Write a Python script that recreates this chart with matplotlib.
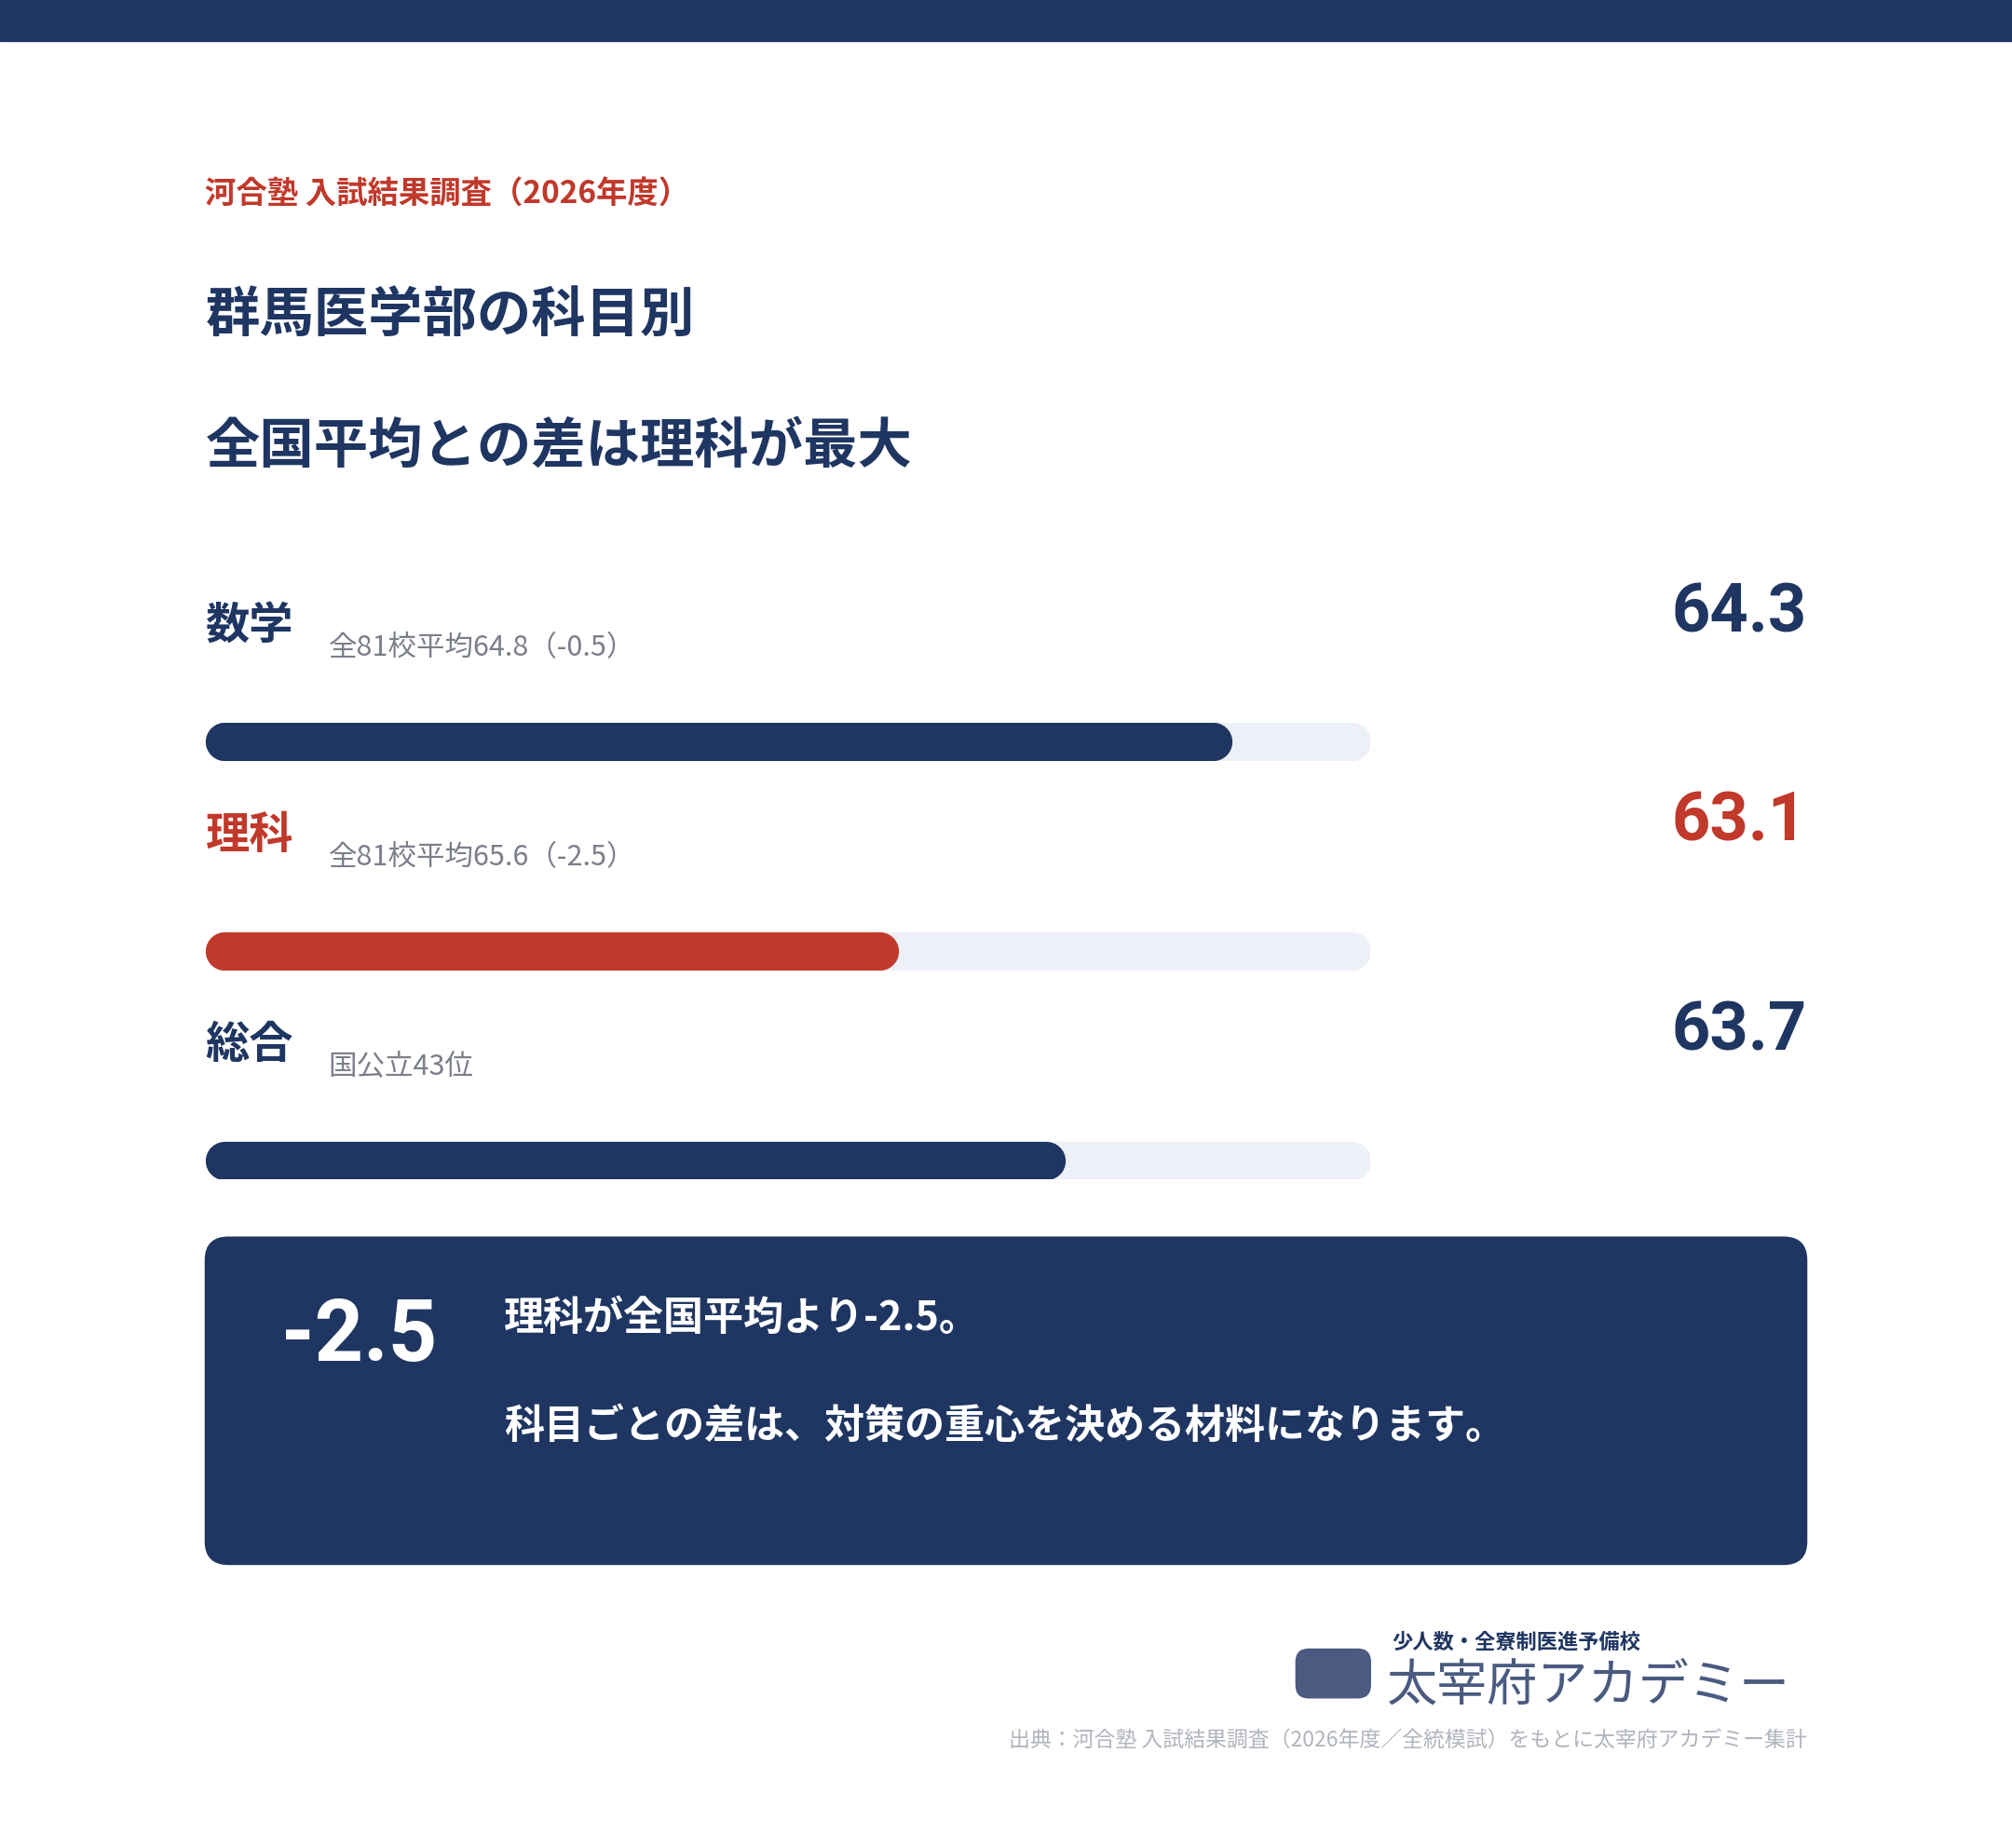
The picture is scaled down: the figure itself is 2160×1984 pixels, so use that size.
import matplotlib
matplotlib.use("Agg")
import matplotlib.pyplot as plt
from matplotlib.patches import FancyBboxPatch, Rectangle

plt.rcParams['font.family'] = ['Noto Sans CJK JP', 'DejaVu Sans']

NAVY = "#1f3662"
RED = "#c0392b"
TRACK = "#edf0f7"
GREY = "#7a7f8a"

subjects = ["数学", "理科", "総合"]
scores = [64.3, 63.1, 63.7]
notes = ["全81校平均64.8（-0.5）", "全81校平均65.6（-2.5）", "国公立43位"]
highlight = [False, True, False]
scale_min, scale_max = 60.6, 64.8

W, H = 1568, 1440
fig = plt.figure(figsize=(21.6, 19.84), dpi=100)
ax = fig.add_axes([0, 0, 1, 1])
ax.set_xlim(0, W)
ax.set_ylim(H, 0)
ax.axis("off")

ax.add_patch(Rectangle((0, 0), W, 32, color=NAVY))
ax.text(160, 152, "河合塾 入試結果調査（2026年度）", color=RED, fontsize=24,
        fontweight="bold", va="center")
ax.text(160, 246, "群馬医学部の科目別", color=NAVY, fontsize=42, fontweight="bold", va="center")
ax.text(160, 348, "全国平均との差は理科が最大", color=NAVY, fontsize=42, fontweight="bold", va="center")

tops = [470, 633, 796]
for i, (s, v, n, hl) in enumerate(zip(subjects, scores, notes, highlight)):
    c = RED if hl else NAVY
    y = tops[i]
    ax.text(160, y + 18, s, color=c, fontsize=34, fontweight="bold", va="center")
    ax.text(256, y + 35, n, color=GREY, fontsize=22, va="center")
    ax.text(1408, y + 8, f"{v}", color=c, fontsize=52, fontweight="bold",
            va="center", ha="right", family=["Roboto", "DejaVu Sans"])
    yc = y + 108
    bax = fig.add_axes([160 / W, 1 - (yc + 15) / H, 908 / W, 30 / H])
    bax.set_xlim(scale_min, scale_max)
    bax.set_ylim(-1, 1)
    bax.axis("off")
    r = 15 / 908 * (scale_max - scale_min)
    lw = 30 * 1.378 / 1.389
    bax.plot([scale_min + r, scale_max - r], [0, 0], color=TRACK, lw=lw,
             solid_capstyle="round")
    bax.plot([scale_min + r, v - r], [0, 0], color=c, lw=lw, solid_capstyle="round")

ax.add_patch(FancyBboxPatch((160, 964), 1248, 255, boxstyle="round,pad=0,rounding_size=18",
                            color=NAVY))
ax.text(280, 1042, "-2.5", color="white", fontsize=66, fontweight="bold",
        va="center", ha="center", family=["Roboto", "DejaVu Sans"])
ax.text(393, 1027, "理科が全国平均より-2.5。", color="white", fontsize=31,
        fontweight="bold", va="center")
ax.text(393, 1111, "科目ごとの差は、対策の重心を決める材料になります。", color="white",
        fontsize=31, fontweight="bold", va="center")

# logo (text only, simple mark)
ax.text(1085, 1280, "少人数・全寮制医進予備校", color=NAVY, fontsize=16,
        fontweight="bold", va="center")
ax.text(1080, 1314, "太宰府アカデミー", color="#4a5a80", fontsize=39, va="center")
ax.add_patch(FancyBboxPatch((1010, 1285), 58, 38, boxstyle="round,pad=0,rounding_size=10",
                            color="#4a5a80"))
ax.text(1408, 1356, "出典：河合塾 入試結果調査（2026年度／全統模試）をもとに太宰府アカデミー集計",
        color="#b0b4be", fontsize=16.5, va="center", ha="right")

fig.savefig("out.png", dpi=100, facecolor="white")
